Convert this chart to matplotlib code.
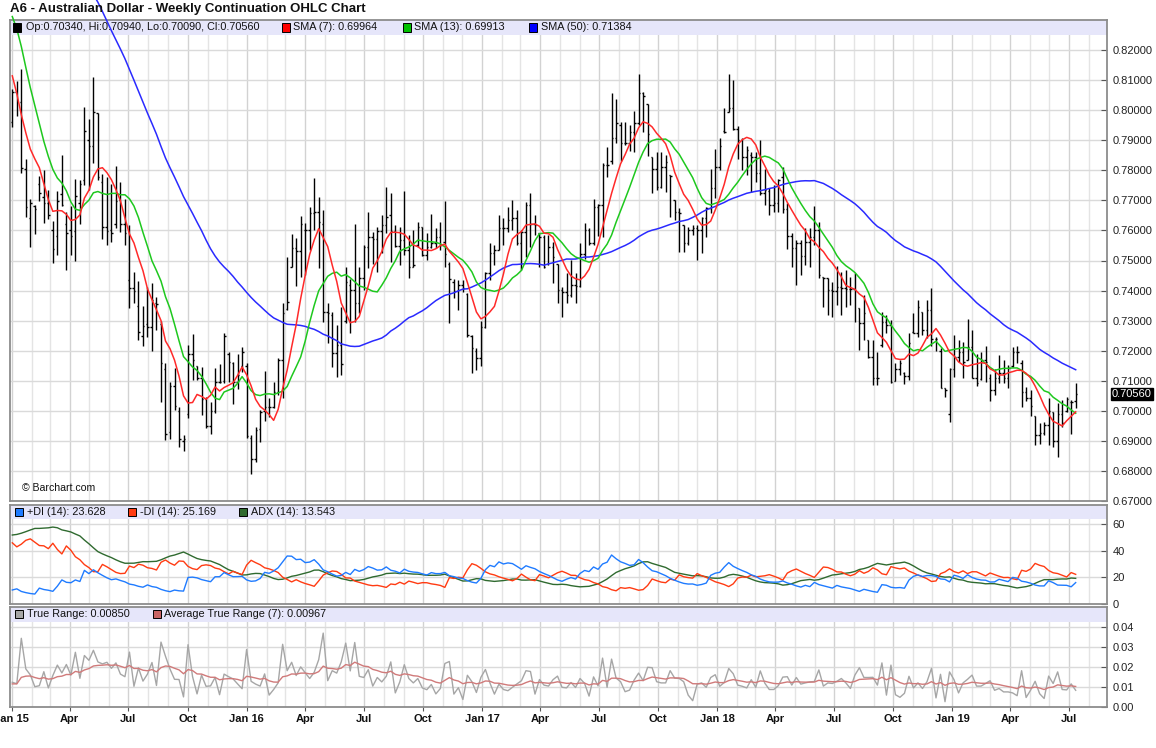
import datetime as dt
import numpy as np
import matplotlib
matplotlib.use("Agg")
import matplotlib.pyplot as plt
from matplotlib.collections import LineCollection
from matplotlib.patches import Rectangle
import matplotlib.transforms as mtrans

plt.rcParams['font.family'] = ['Liberation Sans', 'DejaVu Sans']

# ---------------- data (prices in 1e-4 units) ----------------
opens = [
    7960, 8060, 8026, 7805, 7640, 7680, 7756, 7711, 7691, 7600,
    7583, 7720, 7620, 7600, 7597, 7690, 7767, 7900, 7880, 7990,
    7760, 7610, 7600, 7620, 7700, 7622, 7435, 7409, 7350, 7250,
    7290, 7280, 7360, 7290, 7140, 6930, 7083, 7000, 6900, 6990,
    7190, 7150, 7108, 7040, 6950, 7000, 7097, 7100, 7190, 7160,
    7097, 7150, 7150, 6910, 6840, 6940, 7000, 7014, 7012, 7064,
    7169, 7340, 7480, 7540, 7530, 7600, 7601, 7659, 7661, 7620,
    7330, 7320, 7191, 7219, 7300, 7420, 7402, 7357, 7441, 7544,
    7579, 7570, 7599, 7618, 7651, 7598, 7548, 7568, 7535, 7479,
    7550, 7610, 7518, 7546, 7559, 7577, 7560, 7490, 7430, 7400,
    7418, 7390, 7250, 7200, 7175, 7280, 7457, 7524, 7535, 7607,
    7607, 7634, 7640, 7557, 7596, 7684, 7623, 7590, 7579, 7490,
    7546, 7490, 7402, 7396, 7385, 7418, 7415, 7520, 7601, 7557,
    7679, 7684, 7817, 7830, 7909, 7950, 7890, 7892, 7928, 7958,
    8058, 8020, 7845, 7806, 7745, 7812, 7784, 7700, 7662, 7618,
    7557, 7601, 7607, 7600, 7640, 7673, 7740, 7812, 7930, 7995,
    8006, 7939, 7900, 7845, 7850, 7845, 7790, 7724, 7730, 7685,
    7690, 7779, 7670, 7580, 7540, 7557, 7515, 7563, 7579, 7601,
    7446, 7441, 7402, 7400, 7413, 7407, 7404, 7404, 7341, 7291,
    7236, 7180, 7108, 7220, 7297, 7286, 7100, 7140, 7125, 7115,
    7262, 7260, 7330, 7270, 7335, 7238, 7200, 7075, 6990, 7140,
    7180, 7197, 7170, 7213, 7108, 7105, 7169, 7110, 7069, 7108,
    7125, 7108, 7150, 7197, 7160, 7064, 7042, 6983, 6920, 6925,
    6953, 6997, 6900, 6990, 7000, 7030, 7034]

highs = [
    8070, 8098, 8136, 7836, 7706, 7683, 7780, 7802, 7736, 7630,
    7730, 7852, 7661, 7680, 7772, 7767, 8009, 7970, 8109, 7992,
    7789, 7778, 7756, 7813, 7760, 7706, 7617, 7463, 7433, 7348,
    7413, 7424, 7378, 7300, 7158, 7097, 7142, 7014, 6919, 7219,
    7256, 7150, 7147, 7047, 7030, 7141, 7155, 7258, 7197, 7164,
    7189, 7213, 7158, 6920, 6947, 7003, 7134, 7042, 7097, 7175,
    7357, 7510, 7588, 7574, 7648, 7625, 7679, 7776, 7712, 7668,
    7357, 7330, 7285, 7346, 7477, 7440, 7621, 7479, 7551, 7662,
    7596, 7612, 7651, 7745, 7723, 7618, 7612, 7731, 7585, 7601,
    7629, 7612, 7590, 7654, 7607, 7629, 7698, 7496, 7440, 7435,
    7435, 7391, 7252, 7210, 7300, 7463, 7557, 7551, 7651, 7640,
    7679, 7701, 7668, 7601, 7696, 7725, 7651, 7592, 7585, 7585,
    7562, 7490, 7413, 7457, 7502, 7457, 7557, 7624, 7607, 7703,
    7688, 7825, 7879, 8058, 8036, 7960, 7962, 7950, 7998, 8122,
    8061, 8020, 7845, 7862, 7862, 7851, 7784, 7701, 7673, 7618,
    7612, 7618, 7618, 7646, 7679, 7806, 7870, 7906, 8006, 8122,
    8102, 7947, 7906, 7881, 7860, 7862, 7900, 7806, 7740, 7751,
    7770, 7810, 7690, 7590, 7568, 7568, 7607, 7607, 7681, 7629,
    7446, 7441, 7430, 7482, 7463, 7468, 7446, 7457, 7341, 7385,
    7236, 7236, 7197, 7330, 7319, 7302, 7160, 7170, 7130, 7258,
    7324, 7369, 7330, 7369, 7410, 7247, 7208, 7075, 7141, 7252,
    7236, 7230, 7304, 7269, 7189, 7197, 7216, 7122, 7138, 7186,
    7169, 7152, 7213, 7216, 7169, 7080, 7069, 6983, 6958, 6964,
    7042, 6997, 7025, 7036, 7047, 7036, 7094]

lows = [
    7945, 7980, 7791, 7644, 7544, 7589, 7698, 7624, 7639, 7491,
    7519, 7680, 7469, 7519, 7497, 7622, 7750, 7735, 7824, 7767,
    7572, 7553, 7561, 7609, 7594, 7553, 7341, 7358, 7236, 7217,
    7247, 7200, 7269, 7030, 6903, 6906, 7002, 6878, 6867, 6975,
    7102, 7102, 6986, 6942, 6923, 6992, 7092, 7092, 7097, 7022,
    7072, 7130, 6908, 6790, 6831, 6897, 6967, 6981, 7008, 7053,
    7042, 7335, 7479, 7415, 7446, 7452, 7535, 7601, 7474, 7297,
    7224, 7147, 7114, 7119, 7291, 7258, 7297, 7324, 7402, 7474,
    7490, 7463, 7524, 7590, 7496, 7546, 7485, 7518, 7441, 7479,
    7546, 7515, 7502, 7540, 7540, 7535, 7479, 7291, 7374, 7337,
    7396, 7247, 7125, 7136, 7150, 7274, 7435, 7485, 7535, 7551,
    7596, 7601, 7551, 7468, 7513, 7546, 7585, 7479, 7474, 7485,
    7424, 7357, 7313, 7360, 7378, 7358, 7413, 7504, 7551, 7551,
    7581, 7579, 7779, 7820, 7890, 7832, 7884, 7864, 7862, 7951,
    7928, 7847, 7723, 7734, 7740, 7729, 7646, 7635, 7529, 7529,
    7551, 7585, 7502, 7524, 7579, 7657, 7707, 7801, 7923, 7995,
    7934, 7836, 7801, 7784, 7729, 7762, 7718, 7685, 7651, 7662,
    7662, 7659, 7537, 7479, 7419, 7452, 7485, 7480, 7552, 7442,
    7346, 7319, 7311, 7352, 7319, 7346, 7352, 7296, 7202, 7236,
    7175, 7086, 7086, 7213, 7258, 7091, 7100, 7120, 7090, 7103,
    7258, 7247, 7252, 7241, 7215, 7200, 7075, 7047, 6964, 7114,
    7164, 7108, 7169, 7108, 7083, 7103, 7097, 7031, 7053, 7092,
    7092, 7075, 7147, 7158, 7014, 7031, 6983, 6886, 6890, 6920,
    6886, 6881, 6848, 6947, 6997, 6923, 7009]

closes = [
    8060, 8026, 7809, 7677, 7692, 7672, 7725, 7690, 7650, 7539,
    7697, 7683, 7592, 7581, 7713, 7756, 7930, 7880, 7994, 7778,
    7610, 7598, 7591, 7698, 7622, 7591, 7409, 7398, 7261, 7283,
    7278, 7367, 7356, 7158, 6922, 7083, 7017, 6906, 6906, 7190,
    7169, 7110, 7038, 6950, 7000, 7097, 7097, 7250, 7163, 7097,
    7120, 7197, 6915, 6840, 6936, 6997, 7014, 7012, 7064, 7169,
    7327, 7363, 7540, 7530, 7621, 7601, 7659, 7661, 7629, 7330,
    7324, 7191, 7219, 7156, 7430, 7402, 7357, 7441, 7544, 7579,
    7570, 7599, 7618, 7646, 7598, 7548, 7568, 7535, 7479, 7485,
    7610, 7518, 7546, 7559, 7577, 7551, 7520, 7440, 7400, 7418,
    7407, 7253, 7208, 7175, 7280, 7457, 7524, 7535, 7607, 7607,
    7634, 7640, 7557, 7596, 7684, 7623, 7618, 7579, 7479, 7546,
    7513, 7402, 7396, 7385, 7418, 7415, 7520, 7601, 7557, 7679,
    7684, 7817, 7817, 7909, 7956, 7890, 7892, 7928, 7958, 8058,
    8047, 7921, 7806, 7745, 7812, 7829, 7781, 7662, 7657, 7557,
    7601, 7607, 7600, 7640, 7673, 7740, 7812, 7882, 7928, 8006,
    7939, 7900, 7845, 7867, 7845, 7790, 7724, 7735, 7685, 7690,
    7767, 7670, 7582, 7540, 7557, 7515, 7563, 7579, 7601, 7452,
    7441, 7402, 7400, 7413, 7407, 7404, 7404, 7400, 7291, 7324,
    7180, 7108, 7108, 7297, 7286, 7097, 7140, 7160, 7115, 7227,
    7260, 7346, 7270, 7335, 7238, 7240, 7075, 7070, 7140, 7180,
    7197, 7164, 7213, 7108, 7091, 7169, 7164, 7069, 7108, 7125,
    7108, 7141, 7197, 7197, 7064, 7042, 7016, 6920, 6925, 6953,
    7000, 6900, 6990, 6960, 7040, 7030, 7056]

# weekly closes of 2014 before the first bar (moving average warm-up)
prior_closes = [
    8530, 8545, 8760, 8840, 8790, 8730, 8800, 8820, 8920, 9060,
    9040, 9190, 9150, 9070, 9090, 9150, 9140, 9030, 9100, 9130,
    9200, 9200, 9230, 9140, 9190, 9180, 9200, 9090, 9090, 9120,
    9100, 9140, 9180, 8850, 8700, 8560, 8510, 8560, 8570, 8580,
    8570, 8450, 8520, 8440, 8300, 8100, 8070, 7900, 7930]

# indicator warm-up state at the first bar
dmi_seed = {'tr': 0.180, 'pdm': 0.019, 'mdm': 0.083, 'adx': 52.0}
atr_seed = 0.0117

title = 'A6 - Australian Dollar - Weekly Continuation OHLC Chart'
header_price = "Op:0.70340, Hi:0.70940, Lo:0.70090, Cl:0.70560"
header_sma = ["SMA (7): 0.69964", "SMA (13): 0.69913", "SMA (50): 0.71384"]
header_dmi = ["+DI (14): 23.628", "-DI (14): 25.169", "ADX (14): 13.543"]
header_tr = ["True Range: 0.00850", "Average True Range (7): 0.00967"]
last_price_label = "0.70560"
last_price = 0.70560

# ---------------- derived series ----------------
O = np.array(opens) / 1e4
H = np.array(highs) / 1e4
L = np.array(lows) / 1e4
C = np.array(closes) / 1e4
O = np.clip(O, L, H)
C = np.clip(C, L, H)
n = len(C)
x = np.arange(n)

allc = np.concatenate([np.array(prior_closes) / 1e4, C])


def sma(p):
    return np.convolve(allc, np.ones(p) / p, mode='valid')[-n:]


sma7, sma13, sma50 = sma(7), sma(13), sma(50)

tr = np.zeros(n)
pdm = np.zeros(n)
mdm = np.zeros(n)
tr[0] = H[0] - L[0]
for i in range(1, n):
    tr[i] = max(H[i], C[i - 1]) - min(L[i], C[i - 1])
    up = H[i] - H[i - 1]
    dn = L[i - 1] - L[i]
    pdm[i] = up if (up > dn and up > 0) else 0.0
    mdm[i] = dn if (dn > up and dn > 0) else 0.0

s_tr, s_p, s_m, adx_v = dmi_seed['tr'], dmi_seed['pdm'], dmi_seed['mdm'], dmi_seed['adx']
pdi = np.zeros(n)
mdi = np.zeros(n)
adx = np.zeros(n)
pdi[0] = 100 * s_p / s_tr
mdi[0] = 100 * s_m / s_tr
adx[0] = adx_v
for i in range(1, n):
    s_tr = s_tr - s_tr / 14 + tr[i]
    s_p = s_p - s_p / 14 + pdm[i]
    s_m = s_m - s_m / 14 + mdm[i]
    pdi[i] = 100 * s_p / s_tr
    mdi[i] = 100 * s_m / s_tr
    dx = 100 * abs(pdi[i] - mdi[i]) / (pdi[i] + mdi[i])
    adx_v = (adx_v * 13 + dx) / 14
    adx[i] = adx_v

atr = np.zeros(n)
atr[0] = atr_seed
for i in range(1, n):
    atr[i] = (atr[i - 1] * 6 + tr[i]) / 7

# ---------------- figure layout ----------------
W, Hh = 1156, 748
fig = plt.figure(figsize=(W / 100, Hh / 100), dpi=100)
fig.patch.set_facecolor('white')


def fx(px):
    return px / W


def fy(py):
    return 1 - py / Hh


left_px, right_px = 10, 1107
ax_p = fig.add_axes([fx(left_px), fy(501), fx(right_px - left_px), (501 - 20) / Hh])
ax_d = fig.add_axes([fx(left_px), fy(604), fx(right_px - left_px), (604 - 504.5) / Hh])
ax_t = fig.add_axes([fx(left_px), fy(707.3), fx(right_px - left_px), (707.3 - 607.3) / Hh])

XMIN, XMAX = -0.51, 242.95
frame_col = '#8c8c8c'
grid_col = '#dadada'
band_col = '#e6e6fa'

# month grid positions
months = []
d = dt.date(2015, 1, 1)
while d <= dt.date(2019, 8, 1):
    months.append(d)
    d = dt.date(d.year + (d.month // 12), d.month % 12 + 1, 1)
base = dt.date(2015, 1, 1)


def idx_of(day):
    return (day - base).days / 7.0 - 0.1


for ax in (ax_p, ax_d, ax_t):
    ax.set_xlim(XMIN, XMAX)
    ax.set_facecolor('white')
    for sp in ax.spines.values():
        sp.set_color(frame_col)
        sp.set_linewidth(1.3)
    for m in months:
        q = m.month in (1, 4, 7, 10)
        ax.axvline(idx_of(m), color='#d2d2d2' if q else '#e4e4e4', lw=1.0, zorder=0)
    ax.yaxis.tick_right()
    ax.tick_params(axis='y', direction='in', length=4, width=0.8, color='#555555',
                   labelsize=8, pad=4, labelcolor='#222222')
    ax.tick_params(axis='x', length=0)
    ax.set_xticks([])

# ---------------- price panel ----------------
ax_p.set_ylim(0.67, 0.83)
pt = np.round(np.arange(0.67, 0.8201, 0.01), 2)
ax_p.set_yticks(pt)
ax_p.set_yticklabels(['%.5f' % v for v in pt])
for v in pt:
    ax_p.axhline(v, color=grid_col, lw=1.0, zorder=0)
ax_p.add_patch(Rectangle((0, 1 - 15 / 481), 1, 15 / 481, transform=ax_p.transAxes,
                         facecolor=band_col, edgecolor='none', zorder=1))

segs = []
tw = 0.33
for i in range(n):
    segs.append([(x[i], L[i]), (x[i], H[i])])
    segs.append([(x[i] - tw, O[i]), (x[i], O[i])])
    segs.append([(x[i], C[i]), (x[i] + tw, C[i])])
ax_p.add_collection(LineCollection(segs, colors='black', linewidths=1.0, zorder=3))

ax_p.plot(x, sma50, color='#2a2aff', lw=1.1, zorder=4, clip_on=False)
ax_p.plot(x, sma13, color='#1ec81e', lw=1.1, zorder=4, clip_on=False)
ax_p.plot(x, sma7, color='#ff2a2a', lw=1.1, zorder=5, clip_on=False)

ax_p.text(1.0045, last_price, last_price_label,
          transform=mtrans.blended_transform_factory(ax_p.transAxes, ax_p.transData),
          ha='left', va='center', fontsize=8, color='white',
          bbox=dict(boxstyle='square,pad=0.12', facecolor='black', edgecolor='black'))

fig.text(fx(22), fy(488), '\u00a9 Barchart.com', fontsize=7.6, color='#111111',
         ha='left', va='center')

# ---------------- DMI panel ----------------
ax_d.set_ylim(0, 75)
ax_d.set_yticks([0, 20, 40, 60])
ax_d.set_yticklabels(['0', '20', '40', '60'])
for v in [20, 40, 60]:
    ax_d.axhline(v, color=grid_col, lw=1.0, zorder=0)
ax_d.add_patch(Rectangle((0, 1 - 14.5 / 99.5), 1, 14.5 / 99.5, transform=ax_d.transAxes,
                         facecolor=band_col, edgecolor='none', zorder=1))
ax_d.plot(x, adx, color='#2f6a2f', lw=1.0, zorder=3)
ax_d.plot(x, mdi, color='#ff3b12', lw=1.0, zorder=4)
ax_d.plot(x, pdi, color='#1f7bff', lw=1.0, zorder=5)

# ---------------- True range panel ----------------
ax_t.set_ylim(0, 0.05)
tt = [0.0, 0.01, 0.02, 0.03, 0.04]
ax_t.set_yticks(tt)
ax_t.set_yticklabels(['%.2f' % v for v in tt])
for v in tt[1:]:
    ax_t.axhline(v, color=grid_col, lw=1.0, zorder=0)
ax_t.add_patch(Rectangle((0, 1 - 14.5 / 100), 1, 14.5 / 100, transform=ax_t.transAxes,
                         facecolor=band_col, edgecolor='none', zorder=1))
ax_t.plot(x, tr, color='#a6a6a6', lw=1.0, zorder=3)
ax_t.plot(x, atr, color='#d07a7a', lw=1.0, zorder=4)

qlabels = []
for m in months:
    if m.month in (1, 4, 7, 10):
        if m.month == 1:
            lab = 'Jan %02d' % (m.year % 100)
        else:
            lab = {4: 'Apr', 7: 'Jul', 10: 'Oct'}[m.month]
        qlabels.append((idx_of(m), lab))
ax_t.set_xticks([q[0] for q in qlabels])
ax_t.set_xticklabels([q[1] for q in qlabels], fontsize=8, fontweight='bold', color='#111111')
ax_t.tick_params(axis='x', direction='out', length=3, width=0.8, color='#555555', pad=1.5)

# ---------------- headers / legends ----------------
fig.text(fx(10), fy(9), title, fontsize=9.5, fontweight='bold', ha='left', va='center',
         color='#111111')


def legend_item(px, py, col, label, tx):
    fig.add_artist(Rectangle((fx(px), fy(py + 4)), 8 / W, 8 / Hh, transform=fig.transFigure,
                             facecolor=col, edgecolor='black', lw=0.7, zorder=10))
    fig.text(fx(tx), fy(py), label, fontsize=7.8, ha='left', va='center',
             color='#111111', zorder=10)


legend_item(13, 27.5, 'black', header_price, 26)
legend_item(282, 27.5, '#ff0000', header_sma[0], 293)
legend_item(403, 27.5, '#00c000', header_sma[1], 414)
legend_item(529, 27.5, '#0000ff', header_sma[2], 541)

legend_item(15, 511.7, '#1f7bff', header_dmi[0], 27)
legend_item(128, 511.7, '#ff3b12', header_dmi[1], 140)
legend_item(239, 511.7, '#2f6a2f', header_dmi[2], 251)

legend_item(15, 614.3, '#a6a6a6', header_tr[0], 27)
legend_item(153, 614.3, '#c86464', header_tr[1], 164)

fig.savefig('out.png', dpi=100, facecolor='white')
